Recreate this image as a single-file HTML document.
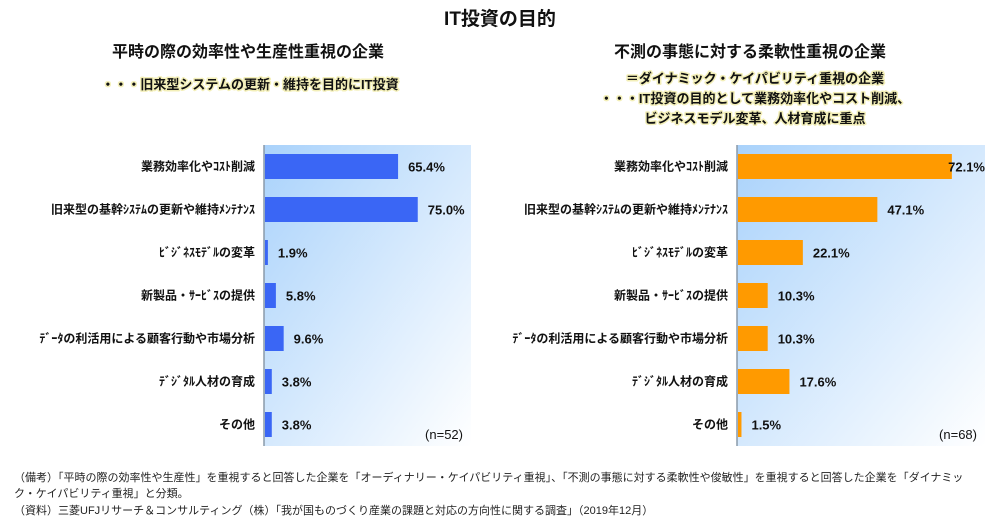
<!DOCTYPE html>
<html><head><meta charset="utf-8">
<style>
html,body{margin:0;padding:0;background:#fff;}
body{width:1000px;height:524px;overflow:hidden;font-family:"Liberation Sans","Noto Sans CJK JP",sans-serif;}
svg text{font-family:"Liberation Sans","Noto Sans CJK JP",sans-serif;}
.hl{paint-order:stroke;stroke:#f3efb8;stroke-width:3px;stroke-linejoin:round;}
</style></head>
<body>
<svg id="chart" width="1000" height="524" viewBox="0 0 1000 524" xmlns="http://www.w3.org/2000/svg">
<defs>
<linearGradient id="bgL" x1="0" y1="0" x2="1" y2="1">
<stop offset="0" stop-color="#a9d2fb"/><stop offset="1" stop-color="#ffffff"/></linearGradient>
</defs>
<text x="500" y="25" text-anchor="middle" font-size="19" font-weight="bold" fill="#111">IT投資の目的</text>
<text x="248" y="57" text-anchor="middle" font-size="16" font-weight="bold" fill="#111">平時の際の効率性や生産性重視の企業</text>
<text class="hl" x="250" y="89" text-anchor="middle" font-size="13" font-weight="bold" fill="#111">・・・旧来型システムの更新・維持を目的にIT投資</text>
<text x="750" y="57" text-anchor="middle" font-size="16" font-weight="bold" fill="#111">不測の事態に対する柔軟性重視の企業</text>
<text class="hl" x="755" y="83" text-anchor="middle" font-size="13" font-weight="bold" fill="#111">＝ダイナミック・ケイパビリティ重視の企業</text>
<text class="hl" x="755" y="103" text-anchor="middle" font-size="13" font-weight="bold" fill="#111">・・・IT投資の目的として業務効率化やコスト削減、</text>
<text class="hl" x="755" y="123" text-anchor="middle" font-size="13" font-weight="bold" fill="#111">ビジネスモデル変革、人材育成に重点</text>
<g id="left"></g>
<g id="right"></g>
<text x="14" y="481" font-size="11" fill="#222">（備考）「平時の際の効率性や生産性」を重視すると回答した企業を「オーディナリー・ケイパビリティ重視」、「不測の事態に対する柔軟性や俊敏性」を重視すると回答した企業を「ダイナミッ</text>
<text x="14" y="497" font-size="11" fill="#222">ク・ケイパビリティ重視」と分類。</text>
<text x="14" y="514" font-size="11" fill="#222">（資料）三菱UFJリサーチ＆コンサルティング（株）「我が国ものづくり産業の課題と対応の方向性に関する調査」（2019年12月）</text>
</svg>
<script>
const categories = ["業務効率化やｺｽﾄ削減","旧来型の基幹ｼｽﾃﾑの更新や維持ﾒﾝﾃﾅﾝｽ","ﾋﾞｼﾞﾈｽﾓﾃﾞﾙの変革","新製品・ｻｰﾋﾞｽの提供","ﾃﾞｰﾀの利活用による顧客行動や市場分析","ﾃﾞｼﾞﾀﾙ人材の育成","その他"];
const leftValues = [65.4, 75.0, 1.9, 5.8, 9.6, 3.8, 3.8];
const rightValues = [72.1, 47.1, 22.1, 10.3, 10.3, 17.6, 1.5];
const leftN = "(n=52)";
const rightN = "(n=68)";
const NS = "http://www.w3.org/2000/svg";
function mk(tag, attrs, parent){const e=document.createElementNS(NS,tag);for(const k in attrs)e.setAttribute(k,attrs[k]);parent.appendChild(e);return e;}
function drawPanel(gid, vals, x0, x1, pxPer, color, nLabel, side){
  const g=document.getElementById(gid);
  const top=145, bottom=446;
  const bg=mk('rect',{x:x0,y:top,width:x1-x0,height:bottom-top,fill:'url(#bgL)'},g);
  
  
  const ax=mk('line',{x1:x0,y1:top,x2:x0,y2:bottom,stroke:'#8a9aaa','stroke-width':1.5},g);
  
  
  const step=(bottom-top)/categories.length;
  const xs=v=>x0+v*pxPer;
  categories.forEach((c,i)=>{
    const cy=top+step*(i+0.5);
    const lab=mk('text',{x:x0-9,y:cy+4,'text-anchor':'end','font-size':12,'font-weight':'bold',fill:'#111'},g);
    lab.textContent=c;
    
    
    const b=mk('rect',{x:x0+1,y:cy-12.5,width:Math.max(0,xs(vals[i])-x0-1),height:25,fill:color},g);
    
    
    const lx=xs(vals[i])+10;
    const overflow = lx+46 > x1+3;
    const t=mk('text',{x:overflow? x1 : lx,y:cy+5,'text-anchor':overflow?'end':'start','font-size':13,'font-weight':'bold',fill:'#111'},g);
    t.textContent=vals[i].toFixed(1)+'%';
    
    
  });
  const n=mk('text',{x:x1-8,y:439,'text-anchor':'end','font-size':13,fill:'#111'},g);
  n.textContent=nLabel;
  
  
}
drawPanel('left', leftValues, 264, 471, 2.05, '#3a66f5', leftN, 'left');
drawPanel('right', rightValues, 737, 985, 2.98, '#ff9a00', rightN, 'right');
</script>
</body></html>
